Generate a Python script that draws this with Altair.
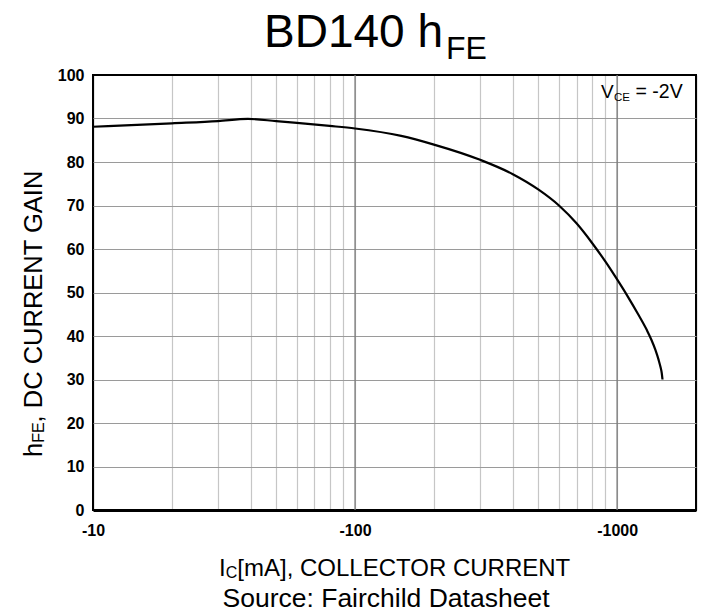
import altair as alt
import pandas as pd

# ---- data ----
ic_ma = [10, 20, 30, 39, 50, 60, 80, 100, 150, 200, 300, 400, 500,
         600, 700, 800, 900, 1000, 1100, 1200, 1300, 1350, 1400, 1440, 1465,
         1480, 1490]
hfe = [88.1, 88.9, 89.4, 89.9, 89.4, 89.0, 88.3, 87.7, 86.0, 84.0, 80.5, 77.2,
       73.7, 70.0, 65.9, 61.5, 57.2, 53.0, 49.0, 45.1, 41.3, 39.2, 36.8, 34.5,
       32.8, 31.5, 30.0]

x_ticks = [10, 20, 30, 40, 50, 60, 70, 80, 90,
           100, 200, 300, 400, 500, 600, 700, 800, 900,
           1000, 2000]
x_labels = [10, 100, 1000]
y_ticks = [0, 10, 20, 30, 40, 50, 60, 70, 80, 90, 100]

FONT = "Liberation Sans"
W, H = 603, 435

curve = pd.DataFrame({"ic": ic_ma, "hfe": hfe})

label_test = " || ".join(f"datum.value == {v}" for v in x_labels)

x_axis = alt.Axis(
    values=x_ticks,
    labelExpr=f"({label_test}) ? '-' + datum.value : ''",
    grid=True,
    gridColor={"condition": {"test": "datum.value == 10 || datum.value == 2000", "value": "#000000"},
               "value": "#c6c6c6"},
    gridWidth=1.2,
    ticks=False, tickSize=0,
    domain=True, domainColor="#000000", domainWidth=3,
    labelFont=FONT, labelFontWeight="bold", labelFontSize=16, labelColor="#000000",
    labelPadding=12, labelFlush=False, labelOverlap=False,
    title=None,
)
y_axis = alt.Axis(
    values=y_ticks,
    grid=True,
    gridColor={"condition": {"test": "datum.value == 0 || datum.value == 100", "value": "#000000"},
               "value": "#9a9a9a"},
    gridWidth=1.2,
    ticks=False, tickSize=0,
    domain=False,
    labelFont=FONT, labelFontWeight="bold", labelFontSize=16, labelColor="#000000",
    labelPadding=9, labelOverlap=False,
    title=None,
)

line = alt.Chart(curve).mark_line(color="#000000", strokeWidth=2.2, interpolate="monotone").encode(
    x=alt.X("ic:Q", scale=alt.Scale(type="log", domain=[10, 2000]), axis=x_axis),
    y=alt.Y("hfe:Q", scale=alt.Scale(domain=[0, 100]), axis=y_axis),
)

# vertical major decade grid (darker)
decades = pd.DataFrame({"ic": [100, 1000]})
major = alt.Chart(decades).mark_rule(color="#7a7a7a", strokeWidth=1.3).encode(
    x=alt.X("ic:Q", scale=alt.Scale(type="log", domain=[10, 2000]))
)

one = pd.DataFrame({"a": [1]})


def txt(s, x, y, size, angle=0, weight="normal", align="left"):
    return alt.Chart(one).mark_text(
        text=s, font=FONT, fontSize=size, fontWeight=weight, align=align,
        baseline="alphabetic", angle=angle, color="#000000",
    ).encode(x=alt.value(x), y=alt.value(y))


ox, oy = 93, 75
texts = [
    # title
    txt("BD140 h", 264 - ox, 47 - oy, 46),
    txt("FE", 446 - ox, 58.5 - oy, 32),
    # annotation
    txt("V", 601 - ox, 98 - oy, 19),
    txt("CE", 614 - ox, 101 - oy, 11.5),
    txt("= -2V", 635.5 - ox, 98 - oy, 19.5),
    # x title
    txt("I", 219 - ox, 576 - oy, 24),
    txt("C", 225.7 - ox, 578 - oy, 16),
    txt("[mA], COLLECTOR CURRENT", 237.3 - ox, 576 - oy, 24),
    # source
    txt("Source: Fairchild Datasheet", 386 - ox, 607 - oy, 26.5, align="center"),
    # y title
    txt("h", 42 - ox, 457 - oy, 25.5, angle=270),
    txt("FE", 44 - ox, 457 - 14.2 - oy, 16, angle=270),
    txt(", DC CURRENT GAIN", 42 - ox, 457 - 14.2 - 20.4 - oy, 25.5, angle=270),
]

chart = alt.layer(major, line, *texts).properties(
    width=W, height=H,
    autosize=alt.AutoSizeParams(type="none"),
    padding={"left": ox, "top": oy, "right": 704 - ox - W, "bottom": 616 - oy - H},
    background="#ffffff",
).configure_view(stroke="#000000", strokeWidth=2)

chart.save("out.html", embed_options={"renderer": "svg", "actions": False})
